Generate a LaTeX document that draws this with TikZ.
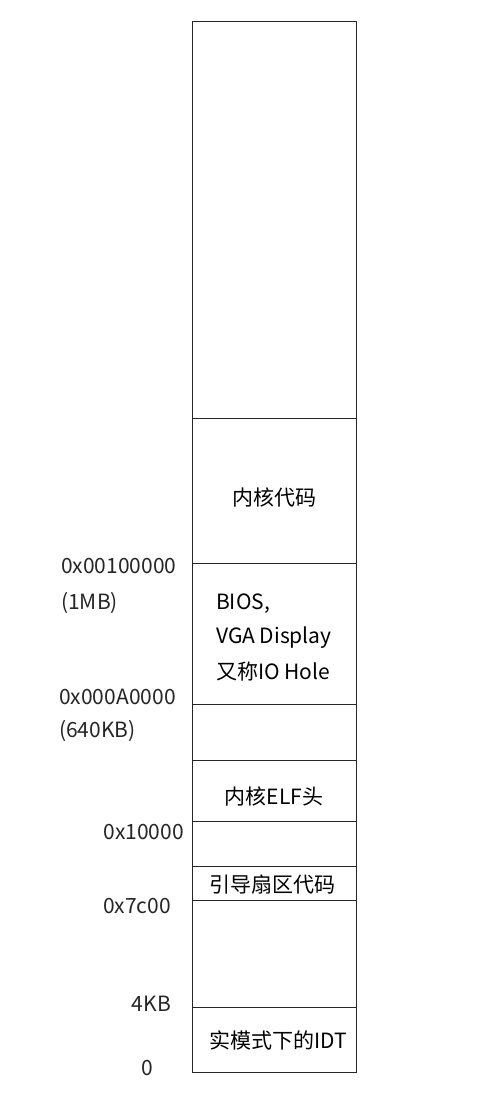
\documentclass[tikz,border=0pt]{standalone}
\usepackage{fontspec}
\setmainfont{Noto Sans CJK SC}
\begin{document}
\begin{tikzpicture}[x=1pt,y=-1pt,
  txt/.style={font=\fontsize{21}{25}\selectfont, inner sep=0pt},
  lbl/.style={font=\fontsize{21}{25}\selectfont, inner sep=0pt, text=black!85},
  seg/.style={draw=black!85, line width=0.9pt}]
\useasboundingbox (0,0) rectangle (502,1108);
\fill[white] (0,0) rectangle (502,1108);
% memory map outline
\coordinate (tl) at (192,21);
\coordinate (br) at (356,1072);
\draw[seg] (tl) rectangle (br);
\foreach \y/\n in {418/a,563/b,704/c,760/d,821/e,866/f,900/g,1007/h}{
  \coordinate (l\n) at (192,\y);
  \coordinate (r\n) at (356,\y);
  \draw[seg] (l\n) -- (r\n);
}
% region texts
\node[txt] (kcode) at (274,497) {内核代码};
\node[txt, anchor=west] (bios1) at (216,604) {BIOS,};
\node[txt, anchor=west] (bios2) at (216,638) {VGA Display};
\node[txt, anchor=west] (bios3) at (216,672) {又称IO Hole};
\node[txt] (elf) at (274,796) {内核ELF头};
\node[txt] (boot) at (272,885) {引导扇区代码};
\node[txt, anchor=west] (idt) at (209,1040) {实模式下的IDT};
% address labels
\node[lbl, anchor=west] (a1) at (61,566) {0x00100000};
\node[lbl, anchor=west] (a1b) at (61,603) {(1MB)};
\node[lbl, anchor=west] (a2) at (59,697) {0x000A0000};
\node[lbl, anchor=west] (a2b) at (59,731) {(640KB)};
\node[lbl, anchor=east] (a3) at (184,832) {0x10000};
\node[lbl, anchor=east] (a4) at (171,906) {0x7c00};
\node[lbl, anchor=east] (a5) at (171,1004) {4KB};
\node[lbl] (a6) at (147,1068) {0};
\end{tikzpicture}
\end{document}
